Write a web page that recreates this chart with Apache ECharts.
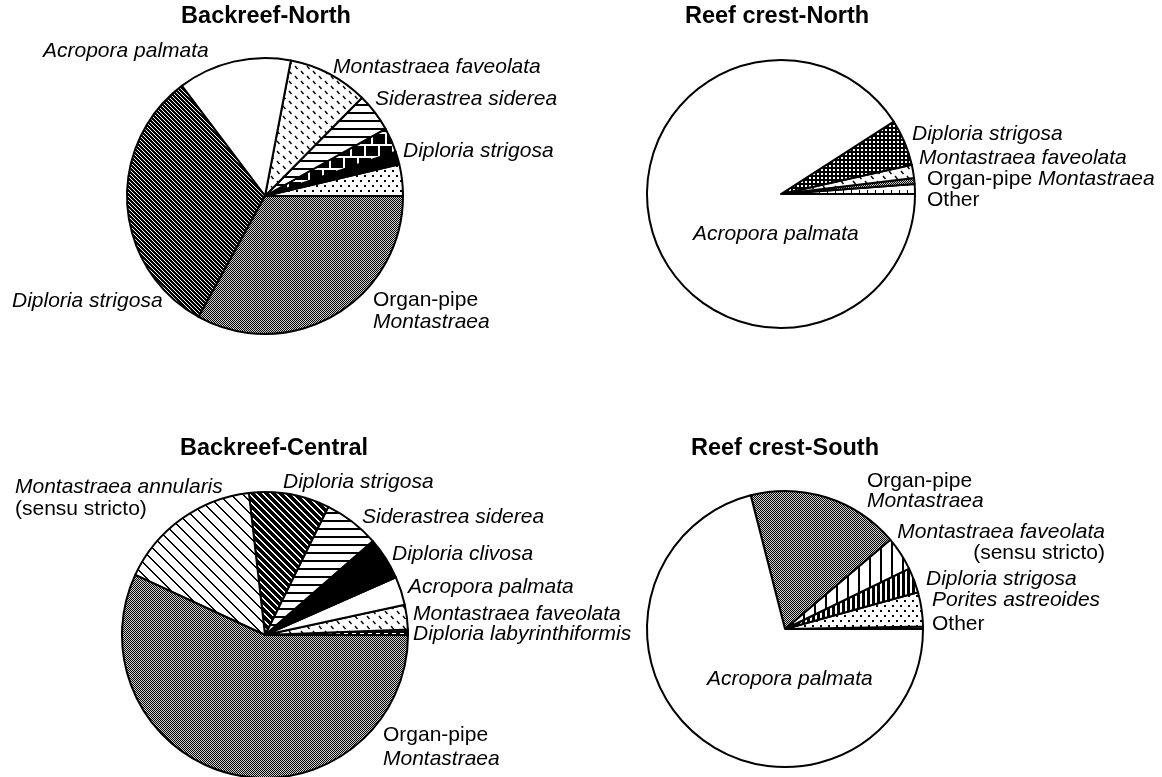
<!DOCTYPE html>
<html><head><meta charset="utf-8">
<script src="https://cdn.jsdelivr.net/npm/echarts@6/dist/echarts.min.js"></script>
<style>html,body{margin:0;padding:0;background:#fff}#c{width:1162px;height:777px}</style>
</head><body><div id="c"></div>
<script>
// ================= DATA =================
const titles = ['Backreef-North', 'Reef crest-North', 'Backreef-Central', 'Reef crest-South'];

// Backreef-North (percent of cover), counter-clockwise from 3 o'clock
const bnNames  = ['Other (dotted)', 'Other (black)', 'Diploria strigosa', 'Siderastrea siderea', 'Montastraea faveolata', 'Acropora palmata', 'Diploria strigosa', 'Organ-pipe Montastraea'];
const bnValues = [3.7, 1.5, 2.9, 4.5, 9.4, 13.3, 31.7, 33.0];
const bnLabels = ['', '', '{i|Diploria strigosa}', '{i|Siderastrea siderea}', '{i|Montastraea faveolata}', '{i|Acropora palmata}', '{i|Diploria strigosa}', '{n|Organ-pipe}\n{i|Montastraea}'];

// Reef crest-North
const rcnNames  = ['Other', 'Organ-pipe Montastraea', 'Montastraea faveolata', 'Diploria strigosa', 'Acropora palmata'];
const rcnValues = [1.2, 0.7, 1.6, 5.6, 90.9];
const rcnLabels = ['{n|Other}', '{n|Organ-pipe }{i|Montastraea}', '{i|Montastraea faveolata}', '{i|Diploria strigosa}', '{i|Acropora palmata}'];

// Backreef-Central
const bcNames  = ['Diploria labyrinthiformis', 'Montastraea faveolata', 'Acropora palmata', 'Diploria clivosa', 'Siderastrea siderea', 'Diploria strigosa', 'Montastraea annularis (sensu stricto)', 'Organ-pipe Montastraea'];
const bcValues = [0.6, 2.8, 3.2, 4.8, 6.3, 9.1, 16.3, 56.9];
const bcLabels = ['{i|Diploria labyrinthiformis}', '{i|Montastraea faveolata}', '{i|Acropora palmata}', '{i|Diploria clivosa}', '{i|Siderastrea siderea}', '{i|Diploria strigosa}', '{i|Montastraea annularis}\n{n|(sensu stricto)}', '{n|Organ-pipe}\n{i|Montastraea}'];

// Reef crest-South
const rcsNames  = ['Other', 'Porites astreoides', 'Diploria strigosa', 'Montastraea faveolata (sensu stricto)', 'Organ-pipe Montastraea', 'Acropora palmata'];
const rcsValues = [0.3, 4.0, 2.9, 4.0, 17.8, 71.0];
const rcsLabels = ['{n|Other}', '{i|Porites astreoides}', '{i|Diploria strigosa}', '{i|Montastraea faveolata}\n{n|(sensu stricto)}', '{n|Organ-pipe}\n{i|Montastraea}', '{i|Acropora palmata}'];

// ================= STYLE / LAYOUT =================
const FF = '"Liberation Sans", Arial, Helvetica, sans-serif';
const fills = [
  ['dots', 'black', 'brick', 'hlines', 'dash', 'white', 'diagDense', 'checker'],
  ['vticks', 'checker', 'dash', 'crosshatch', 'white'],
  ['hdash', 'dash', 'white', 'black', 'hlines', 'diagMed', 'diagSparse', 'checker'],
  ['white', 'dots', 'vlinesDense', 'vlinesSparse', 'checker', 'white']
];
const pieGeom = [
  {center: [265, 196], r: 138},
  {center: [781, 194], r: 134},
  {center: [265, 635], r: 143},
  {center: [785, 629], r: 138}
];
const titlePos = [[266, 17], [777, 17], [274, 449], [785, 449]];
// [x, y(middle), lineHeight, align]
const labelPos = [
  [null, null, [403, 151], [375, 99], [333, 67], [43, 51], [12, 301], [373, 311, 22]],
  [[927, 200], [927, 179], [919, 158], [912, 134], [693, 234]],
  [[413, 634], [413, 614], [408, 587], [392, 554], [362, 517.5], [283, 482.5], [15, 498, 21.5], [383, 747, 24]],
  [[932, 624], [932, 600], [926, 579], [1105, 542.5, 21, 'right'], [867, 491.5, 20], [707, 679]]
];

// ================= PATTERNS =================
function pat(w, h, fn) {
  const c = document.createElement('canvas');
  c.width = w; c.height = h;
  const g = c.getContext('2d');
  fn(g, w, h);
  return {image: c, repeat: 'repeat'};
}
function diag(n, on, bg, fg) {
  return pat(n, n, g => {
    g.fillStyle = bg; g.fillRect(0, 0, n, n);
    g.fillStyle = fg;
    for (let x = 0; x < n; x++) for (let y = 0; y < n; y++) {
      if (on.indexOf(((x - y) % n + n) % n) >= 0) g.fillRect(x, y, 1, 1);
    }
  });
}
const patterns = {
  white: '#ffffff',
  black: '#000000',
  checker: pat(2, 2, g => { g.fillStyle = '#d0d0d0'; g.fillRect(0, 0, 2, 2); g.fillStyle = '#000'; g.fillRect(0, 0, 1, 1); g.fillRect(1, 1, 1, 1); }),
  diagDense: diag(4, [0], '#000', '#fff'),
  diagMed: diag(7, [0, 1], '#000', '#fff'),
  diagSparse: diag(12, [0, 1], '#fff', '#000'),
  hlines: pat(8, 8, g => { g.fillStyle = '#fff'; g.fillRect(0, 0, 8, 8); g.fillStyle = '#000'; g.fillRect(0, 0, 8, 2); }),
  brick: pat(14, 24, g => { g.fillStyle = '#000'; g.fillRect(0, 0, 14, 24); g.fillStyle = '#fff'; g.fillRect(0, 0, 14, 2); g.fillRect(0, 12, 14, 2); g.fillRect(0, 2, 2, 10); g.fillRect(7, 14, 2, 10); }),
  dots: pat(8, 10, g => { g.fillStyle = '#fff'; g.fillRect(0, 0, 8, 10); g.fillStyle = '#000'; g.fillRect(0, 0, 2, 2); g.fillRect(4, 5, 2, 2); }),
  dash: pat(12, 10, g => { g.fillStyle = '#fff'; g.fillRect(0, 0, 12, 10); g.strokeStyle = '#000'; g.lineWidth = 1.4; g.beginPath(); g.moveTo(1, 1); g.lineTo(3.5, 4); g.moveTo(7, 6); g.lineTo(9.5, 9); g.stroke(); }),
  vticks: pat(8, 7, g => { g.fillStyle = '#fff'; g.fillRect(0, 0, 8, 7); g.fillStyle = '#000'; g.fillRect(3, 1, 1, 3); }),
  crosshatch: pat(4, 4, g => { g.fillStyle = '#000'; g.fillRect(0, 0, 4, 4); g.fillStyle = '#fff'; g.fillRect(1, 1, 2, 2); }),
  vlinesSparse: pat(11, 2, g => { g.fillStyle = '#fff'; g.fillRect(0, 0, 11, 2); g.fillStyle = '#000'; g.fillRect(0, 0, 2, 2); }),
  vlinesDense: pat(5, 2, g => { g.fillStyle = '#000'; g.fillRect(0, 0, 5, 2); g.fillStyle = '#fff'; g.fillRect(0, 0, 2, 2); }),
  hdash: pat(8, 4, g => { g.fillStyle = '#000'; g.fillRect(0, 0, 8, 4); g.fillStyle = '#fff'; g.fillRect(0, 1, 4, 2); })
};

// ================= BUILD =================
const allNames = [bnNames, rcnNames, bcNames, rcsNames];
const allValues = [bnValues, rcnValues, bcValues, rcsValues];
const allLabels = [bnLabels, rcnLabels, bcLabels, rcsLabels];

function richFor(lh, align) {
  const base = {fontSize: 21, fontFamily: FF, color: '#000'};
  const i = Object.assign({}, base, {fontStyle: 'italic'});
  const n = Object.assign({}, base, {fontStyle: 'normal'});
  if (lh) { i.lineHeight = lh; n.lineHeight = lh; }
  if (align) { i.align = align; n.align = align; }
  return {i, n};
}

const series = allNames.map((names, s) => ({
  type: 'pie',
  silent: true,
  center: pieGeom[s].center,
  radius: pieGeom[s].r,
  startAngle: 0,
  clockwise: false,
  avoidLabelOverlap: false,
  animation: false,
  emphasis: {disabled: true},
  itemStyle: {borderColor: '#000', borderWidth: 2},
  labelLine: {show: false},
  label: {
    show: true, position: 'outside',
    formatter: p => allLabels[p.seriesIndex][p.dataIndex]
  },
  labelLayout: params => {
    const p = labelPos[params.seriesIndex][params.dataIndex];
    if (!p) return {};
    return {x: p[0], y: p[1], align: p[3] || 'left', verticalAlign: 'middle', hideOverlap: false, moveOverlap: null};
  },
  data: names.map((nm, i) => {
    const lp = labelPos[s][i];
    return {
      name: nm,
      value: allValues[s][i],
      itemStyle: {color: patterns[fills[s][i]]},
      label: {show: !!allLabels[s][i], rich: richFor(lp && lp[2], lp && lp[3])}
    };
  })
}));

const graphic = titles.map((t, k) => ({
  type: 'text', x: titlePos[k][0], y: titlePos[k][1], silent: true,
  style: {text: t, fontSize: 23.5, fontWeight: 'bold', fontFamily: FF, fill: '#000', align: 'center', verticalAlign: 'middle'}
}));

const chart = echarts.init(document.getElementById('c'), null, {renderer: 'canvas'});
chart.setOption({backgroundColor: '#fff', animation: false, series, graphic});
</script>
</body></html>
